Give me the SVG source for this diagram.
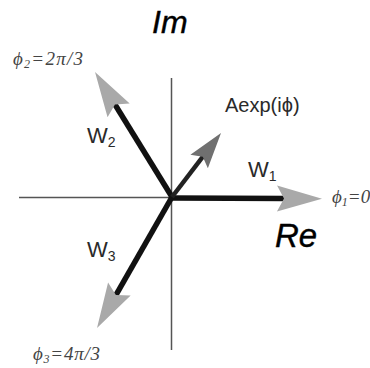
<svg xmlns="http://www.w3.org/2000/svg" width="370" height="368" viewBox="0 0 370 368">
<style>
.axis{stroke:#555;stroke-width:1.5;fill:none}
.vec{stroke:#111;stroke-width:5.5;fill:none}
.vecA{stroke:#222;stroke-width:4.5;fill:none}
.lbl{font-family:"Liberation Sans",Arial,sans-serif;fill:#2a2a2a}
.big{font-family:"Liberation Sans",Arial,sans-serif;font-style:italic;fill:#000;font-size:32px;stroke:#000;stroke-width:0.4}
.phi{font-family:"Liberation Serif","Times New Roman",serif;font-style:italic;fill:#444;font-size:19px}
</style>
<defs>
<marker id="headW" markerUnits="userSpaceOnUse" orient="auto" viewBox="-46 -14 48 28" markerWidth="48" markerHeight="28" refX="-36" refY="0">
<path d="M0,0 L-45,-13 L-38,0 L-45,13 Z" fill="#a9a9a9"/>
</marker>
<marker id="headA" markerUnits="userSpaceOnUse" orient="auto" viewBox="-38 -12 40 24" markerWidth="40" markerHeight="24" refX="-28" refY="0">
<path d="M0,0 L-36,-11 L-30,0 L-36,11 Z" fill="#707070"/>
</marker>
</defs>
<g id="axes">
<line class="axis" x1="171.5" y1="78" x2="171.5" y2="350"/>
<line class="axis" x1="19" y1="197.5" x2="290" y2="197.5"/>
</g>
<g id="connectors">
<line class="vec" x1="172" y1="198" x2="286" y2="198.5" marker-end="url(#headW)"/>
<line class="vec" x1="172" y1="197" x2="113.9" y2="102.7" marker-end="url(#headW)"/>
<line class="vec" x1="172" y1="197" x2="114.9" y2="296.8" marker-end="url(#headW)"/>
<line class="vecA" x1="172" y1="197" x2="204" y2="155.2" marker-end="url(#headA)"/>
</g>
<g id="Im"><text class="big" x="152" y="33">Im</text></g>
<g id="Re"><text class="big" x="275" y="247" style="font-size:33px">Re</text></g>
<g id="W1"><text class="lbl" x="248" y="177" font-size="22">W<tspan font-size="14" dy="4">1</tspan></text></g>
<g id="W2"><text class="lbl" x="87" y="143" font-size="22">W<tspan font-size="14" dy="4">2</tspan></text></g>
<g id="W3"><text class="lbl" x="87" y="257" font-size="22">W<tspan font-size="14" dy="4">3</tspan></text></g>
<g id="A"><text class="lbl" x="225" y="112" font-size="20">Aexp(iϕ)</text></g>
<g id="phi1"><text class="phi" x="332" y="203">ϕ<tspan font-size="12" dy="3">1</tspan><tspan dy="-3">=0</tspan></text></g>
<g id="phi2"><text class="phi" x="13" y="65" textLength="70" lengthAdjust="spacing">ϕ<tspan font-size="12" dy="3">2</tspan><tspan dy="-3">=2π/3</tspan></text></g>
<g id="phi3"><text class="phi" x="33" y="360" textLength="67" lengthAdjust="spacing">ϕ<tspan font-size="12" dy="3">3</tspan><tspan dy="-3">=4π/3</tspan></text></g>
</svg>
